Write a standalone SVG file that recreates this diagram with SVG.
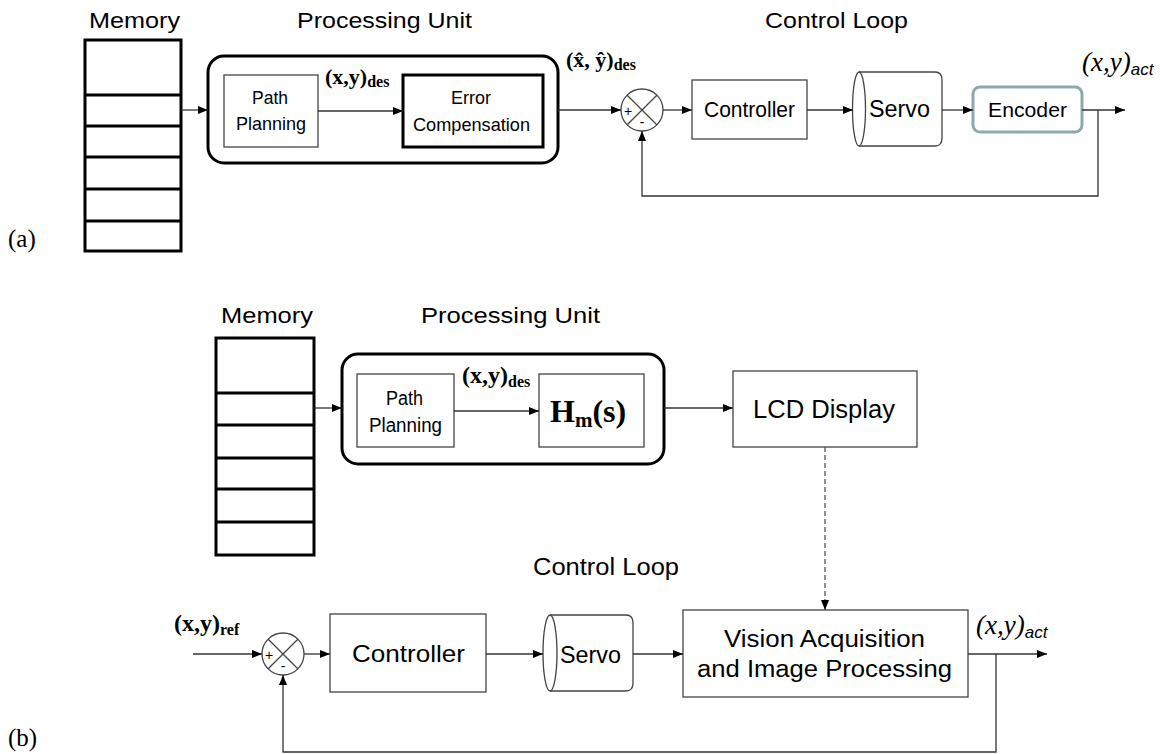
<svg xmlns="http://www.w3.org/2000/svg" width="1162" height="754" viewBox="0 0 1162 754">
<style>
.thick{fill:#fff;stroke:#000;stroke-width:3}
.thin{fill:#fff;stroke:#444;stroke-width:1.3}
.wire{fill:none;stroke:#333;stroke-width:1.3}
.dash{fill:none;stroke:#555;stroke-width:1.3;stroke-dasharray:5,3}
.sans{font-family:"Liberation Sans",Arial,sans-serif;fill:#000}
.serif{font-family:"Liberation Serif","Times New Roman",serif;fill:#000}
.sb{font-family:"Liberation Serif","Times New Roman",serif;font-weight:bold;fill:#000}
.si{font-family:"Liberation Serif","Times New Roman",serif;font-style:italic;fill:#000}
</style>
<defs>
<marker id="ah" markerWidth="10" markerHeight="8" refX="10" refY="4" orient="auto" markerUnits="userSpaceOnUse">
<path d="M0,0 L10,4 L0,8 z" fill="#000"/>
</marker>
</defs>
<rect width="1162" height="754" fill="#fff"/>

<!-- ===== Panel (a) ===== -->
<text class="serif" x="8" y="247" font-size="25">(a)</text>
<text class="sans" x="89" y="28" font-size="22" textLength="91" lengthAdjust="spacingAndGlyphs">Memory</text>
<text class="sans" x="297" y="28" font-size="22" textLength="175" lengthAdjust="spacingAndGlyphs">Processing Unit</text>
<text class="sans" x="765" y="28" font-size="22" textLength="143" lengthAdjust="spacingAndGlyphs">Control Loop</text>

<g id="a-memory">
<rect class="thick" x="85" y="40" width="96" height="211"/>
<path class="thick" d="M85,95 H181 M85,126 H181 M85,157 H181 M85,189 H181 M85,221 H181"/>
</g>
<g id="a-processing">
<rect class="thick" x="208" y="56" width="350" height="107" rx="16"/>
</g>
<g id="a-path">
<rect class="thin" x="224" y="75" width="94" height="72"/>
<text class="sans" x="252" y="104" font-size="19" textLength="36" lengthAdjust="spacingAndGlyphs">Path</text>
<text class="sans" x="236" y="130" font-size="19" textLength="70" lengthAdjust="spacingAndGlyphs">Planning</text>
</g>
<g id="a-error">
<rect class="thick" x="403" y="75" width="140" height="72"/>
<text class="sans" x="451" y="104" font-size="19" textLength="40" lengthAdjust="spacingAndGlyphs">Error</text>
<text class="sans" x="413" y="131" font-size="19" textLength="117" lengthAdjust="spacingAndGlyphs">Compensation</text>
</g>
<g id="a-sum">
<circle cx="642" cy="110" r="21" fill="#fff" stroke="#444" stroke-width="1.3"/>
<path d="M627.2,95.2 L656.8,124.8 M656.8,95.2 L627.2,124.8" stroke="#444" stroke-width="1.3"/>
<text class="sans" x="628" y="116" font-size="14" text-anchor="middle">+</text>
<text class="sans" x="642" y="127" font-size="14" text-anchor="middle">-</text>
</g>
<g id="a-controller">
<rect class="thin" x="692" y="80" width="115" height="59"/>
<text class="sans" x="704" y="117" font-size="22" textLength="91" lengthAdjust="spacingAndGlyphs">Controller</text>
</g>
<g id="a-servo">
<path class="thin" d="M859,72 H935 Q942,72 942,80 V138 Q942,146 935,146 H859"/>
<ellipse cx="859" cy="109" rx="6.5" ry="37" fill="#fff" stroke="#444" stroke-width="1.3"/>
<text class="sans" x="869" y="117" font-size="23" textLength="61" lengthAdjust="spacingAndGlyphs">Servo</text>
</g>
<g id="a-encoder">
<rect x="973" y="87" width="109" height="45" rx="7" fill="#fff" stroke="#8fa9ab" stroke-width="3"/>
<text class="sans" x="988" y="117" font-size="21" textLength="79" lengthAdjust="spacingAndGlyphs">Encoder</text>
</g>
<g id="a-labels">
<text class="sb" x="325" y="84" font-size="22">(x,y)<tspan font-size="16" dy="3">des</tspan></text>
<text class="sb" x="566" y="67" font-size="22">(x̂, ŷ)<tspan font-size="16" dy="3">des</tspan></text>
<text class="si" x="1082" y="71" font-size="27">(x,y)<tspan class="sans" font-style="italic" font-weight="normal" font-size="17" dy="4" style="font-family:'Liberation Sans',Arial,sans-serif">act</tspan></text>
</g>
<g id="a-connectors">
<line class="wire" x1="181" y1="110" x2="208" y2="110" marker-end="url(#ah)"/>
<line class="wire" x1="318" y1="111" x2="403" y2="111" marker-end="url(#ah)"/>
<line class="wire" x1="558" y1="110" x2="621" y2="110" marker-end="url(#ah)"/>
<line class="wire" x1="663" y1="110" x2="692" y2="110" marker-end="url(#ah)"/>
<line class="wire" x1="807" y1="110" x2="853" y2="110" marker-end="url(#ah)"/>
<line class="wire" x1="942" y1="110" x2="973" y2="110" marker-end="url(#ah)"/>
<line class="wire" x1="1082" y1="110" x2="1125" y2="110" marker-end="url(#ah)"/>
<polyline class="wire" points="1098,110 1098,196 642,196 642,131" marker-end="url(#ah)"/>
</g>

<!-- ===== Panel (b) ===== -->
<text class="serif" x="8" y="746" font-size="25">(b)</text>
<text class="sans" x="221" y="323" font-size="22" textLength="92" lengthAdjust="spacingAndGlyphs">Memory</text>
<text class="sans" x="421" y="323" font-size="22" textLength="179" lengthAdjust="spacingAndGlyphs">Processing Unit</text>
<text class="sans" x="533" y="575" font-size="23" textLength="146" lengthAdjust="spacingAndGlyphs">Control Loop</text>

<g id="b-memory">
<rect class="thick" x="216" y="338" width="98" height="217"/>
<path class="thick" d="M216,393 H314 M216,425 H314 M216,458 H314 M216,489 H314 M216,522 H314"/>
</g>
<g id="b-processing">
<rect class="thick" x="342" y="354" width="322" height="110" rx="16"/>
</g>
<g id="b-path">
<rect class="thin" x="357" y="374" width="97" height="73"/>
<text class="sans" x="386" y="405" font-size="20" textLength="37" lengthAdjust="spacingAndGlyphs">Path</text>
<text class="sans" x="369" y="432" font-size="20" textLength="73" lengthAdjust="spacingAndGlyphs">Planning</text>
</g>
<g id="b-hm">
<rect class="thin" x="539" y="374" width="105" height="73"/>
<text class="sb" x="550" y="422" font-size="32">H<tspan font-size="21" dy="5">m</tspan><tspan dy="-5">(s)</tspan></text>
</g>
<g id="b-lcd">
<rect class="thin" x="733" y="371" width="184" height="76"/>
<text class="sans" x="753" y="418" font-size="25" textLength="142" lengthAdjust="spacingAndGlyphs">LCD Display</text>
</g>
<g id="b-sum">
<circle cx="283" cy="654" r="21" fill="#fff" stroke="#444" stroke-width="1.3"/>
<path d="M268.2,639.2 L297.8,668.8 M297.8,639.2 L268.2,668.8" stroke="#444" stroke-width="1.3"/>
<text class="sans" x="269" y="660" font-size="14" text-anchor="middle">+</text>
<text class="sans" x="283" y="671" font-size="14" text-anchor="middle">-</text>
</g>
<g id="b-controller">
<rect class="thin" x="330" y="614" width="156" height="78"/>
<text class="sans" x="352" y="662" font-size="24" textLength="113" lengthAdjust="spacingAndGlyphs">Controller</text>
</g>
<g id="b-servo">
<path class="thin" d="M550,615 H626 Q633,615 633,623 V683 Q633,691 626,691 H550"/>
<ellipse cx="550" cy="653" rx="7" ry="38" fill="#fff" stroke="#444" stroke-width="1.3"/>
<text class="sans" x="560" y="663" font-size="24" textLength="61" lengthAdjust="spacingAndGlyphs">Servo</text>
</g>
<g id="b-vision">
<rect class="thin" x="683" y="610" width="285" height="87"/>
<text class="sans" x="724" y="647" font-size="23" textLength="201" lengthAdjust="spacingAndGlyphs">Vision Acquisition</text>
<text class="sans" x="697" y="677" font-size="23" textLength="255" lengthAdjust="spacingAndGlyphs">and Image Processing</text>
</g>
<g id="b-labels">
<text class="sb" x="462" y="383" font-size="24">(x,y)<tspan font-size="16" dy="4">des</tspan></text>
<text class="sb" x="174" y="631" font-size="24">(x,y)<tspan font-size="16" dy="4">ref</tspan></text>
<text class="si" x="976" y="634" font-size="27">(x,y)<tspan font-size="17" dy="4" style="font-family:'Liberation Sans',Arial,sans-serif">act</tspan></text>
</g>
<g id="b-connectors">
<line class="wire" x1="314" y1="408" x2="342" y2="408" marker-end="url(#ah)"/>
<line class="wire" x1="454" y1="411" x2="539" y2="411" marker-end="url(#ah)"/>
<line class="wire" x1="664" y1="408" x2="733" y2="408" marker-end="url(#ah)"/>
<line class="dash" x1="825" y1="447" x2="825" y2="610" marker-end="url(#ah)"/>
<line class="wire" x1="193" y1="654" x2="262" y2="654" marker-end="url(#ah)"/>
<line class="wire" x1="304" y1="654" x2="330" y2="654" marker-end="url(#ah)"/>
<line class="wire" x1="486" y1="654" x2="543" y2="654" marker-end="url(#ah)"/>
<line class="wire" x1="633" y1="654" x2="683" y2="654" marker-end="url(#ah)"/>
<line class="wire" x1="968" y1="654" x2="1047" y2="654" marker-end="url(#ah)"/>
<polyline class="wire" points="996,654 996,752 283,752 283,675" marker-end="url(#ah)"/>
</g>
</svg>
